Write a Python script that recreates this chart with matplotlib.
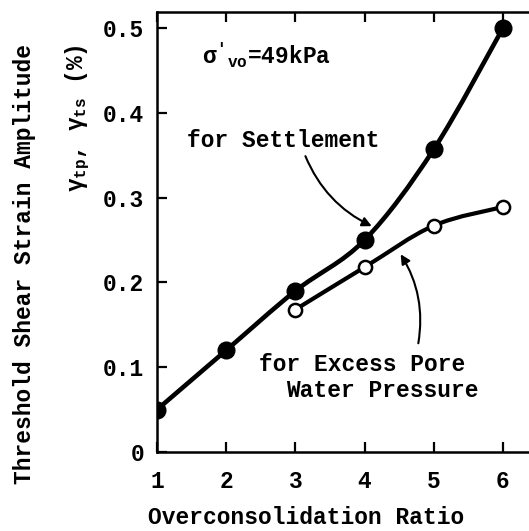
import matplotlib
matplotlib.use('Agg')
import matplotlib.pyplot as plt
from matplotlib.path import Path
from matplotlib.patches import PathPatch
import numpy as np

# data
ocr = [1, 2, 3, 4, 5, 6]
gamma_ts = [0.05, 0.12, 0.19, 0.25, 0.357, 0.50]      # for settlement (filled)
ocr_pore = [3, 4, 5, 6]
gamma_tp = [0.168, 0.218, 0.267, 0.289]               # for excess pore water pressure (open)
xticks = [1, 2, 3, 4, 5, 6]
yticks = [0, 0.1, 0.2, 0.3, 0.4, 0.5]
ytick_labels = ['0', '0.1', '0.2', '0.3', '0.4', '0.5']

FONT = 'Liberation Mono'
plt.rcParams['font.family'] = [FONT, 'DejaVu Sans']
plt.rcParams['font.weight'] = 'bold'
plt.rcParams['mathtext.fontset'] = 'custom'
plt.rcParams['mathtext.rm'] = FONT + ':bold'
plt.rcParams['mathtext.it'] = FONT + ':bold'
plt.rcParams['mathtext.bf'] = FONT + ':bold'
FS = 16.5


def smooth_path(xs, ys):
    # catmull-rom style bezier through the given points
    pts = np.column_stack([xs, ys]).astype(float)
    n = len(pts)
    verts = [pts[0]]
    codes = [Path.MOVETO]
    for i in range(n - 1):
        p0 = pts[i - 1] if i > 0 else pts[i]
        p1 = pts[i]
        p2 = pts[i + 1]
        p3 = pts[i + 2] if i + 2 < n else pts[i + 1]
        c1 = p1 + (p2 - p0) / 6.0
        c2 = p2 - (p3 - p1) / 6.0
        verts += [c1, c2, p2]
        codes += [Path.CURVE4] * 3
    return Path(verts, codes)


fig = plt.figure(figsize=(5.29, 5.31), dpi=100)
ax = fig.add_axes([157 / 529, 1 - 452 / 531, 1 - 157 / 529, (452 - 12) / 531])

ax.add_patch(PathPatch(smooth_path(ocr, gamma_ts), fill=False, lw=3.3, color='black',
                       capstyle='round', zorder=2))
ax.add_patch(PathPatch(smooth_path(ocr_pore, gamma_tp), fill=False, lw=3.0, color='black',
                       capstyle='round', zorder=2))
ax.plot(ocr_pore, gamma_tp, 'o', ms=9.5, mfc='white', mec='black', mew=1.8, zorder=3)
ax.plot(ocr, gamma_ts, 'o', ms=12, color='black', zorder=4)

ax.set_xlim(1, 1 + (529 - 158) / 69)
ax.set_ylim(0, 0.519)
ax.spines['right'].set_visible(False)
for s in ['left', 'top', 'bottom']:
    ax.spines[s].set_linewidth(1.8)

ax.set_xticks(xticks)
ax.set_xticklabels([str(v) for v in xticks])
ax.set_yticks(yticks)
ax.set_yticklabels(ytick_labels)
ax.tick_params(direction='in', length=7, width=1.6, labelsize=FS, pad=9,
               top=True, right=False)
ax.tick_params(axis='x', pad=13)

ax.text(1.65, 0.468, r"$\sigma'_{\mathrm{vo}}$=49kPa", fontsize=FS, va='center', ha='left')
ax.text(1.43, 0.368, 'for Settlement', fontsize=FS, va='center', ha='left')
ax.text(2.48, 0.1035, 'for Excess Pore', fontsize=FS, va='center', ha='left')
ax.text(2.87, 0.072, 'Water Pressure', fontsize=FS, va='center', ha='left')

ax.annotate('', xy=(4.14, 0.265), xytext=(3.13, 0.352),
            arrowprops=dict(arrowstyle='-|>', lw=1.5, color='black', mutation_scale=14,
                            connectionstyle='arc3,rad=0.2'))
ax.annotate('', xy=(4.5, 0.236), xytext=(4.77, 0.125),
            arrowprops=dict(arrowstyle='-|>', lw=1.5, color='black', mutation_scale=14,
                            connectionstyle='arc3,rad=0.2'))

fig.text(306 / 529, 1 - 518 / 531, 'Overconsolidation Ratio', fontsize=FS,
         ha='center', va='center')
fig.text(25 / 529, 1 - 264 / 531, 'Threshold Shear Strain Amplitude', fontsize=FS,
         ha='center', va='center', rotation=90)
fig.text(78 / 529, 1 - 118 / 531, r'$\gamma_{tp}$, $\gamma_{ts}$ (%)', fontsize=FS,
         ha='center', va='center', rotation=90)

fig.savefig('out.png', dpi=100)
